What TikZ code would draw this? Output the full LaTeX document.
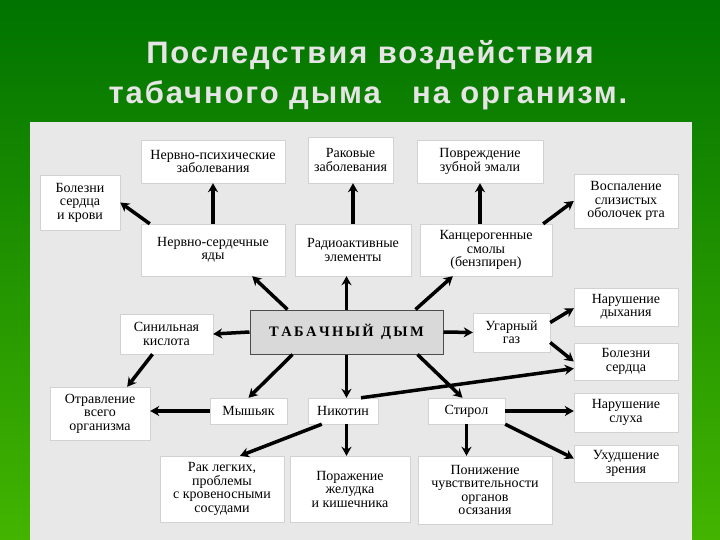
\documentclass[tikz,border=0pt]{standalone}
\usepackage{fontspec}
\setmainfont{Liberation Serif}
\newfontfamily\titlefont[LetterSpace=6]{Liberation Sans}
\usetikzlibrary{arrows.meta}
\begin{document}
\begin{tikzpicture}[x=1pt,y=-1pt,
  box/.style={fill=white,draw=gray!35,align=center,inner sep=1pt,font=\fontsize{14}{13.5}\selectfont},
  arr/.style={line width=3.5pt,-{Stealth[length=9pt,width=10pt]}},
  ttl/.style={font=\titlefont\bfseries\fontsize{31}{32}\selectfont,text=gray!20}]
\shade[top color=green!45!black,bottom color=green!55!black!65!lime] (0,0) rectangle (720,540);
\useasboundingbox (0,0) rectangle (720,540);
\fill[gray!18] (30,122) rectangle (692,540);
\node[ttl] (t1) at (370,55) {Последствия воздействия};
\node[ttl] (t2) at (368,95) {табачного дыма\ \ \ на организм.};
\newcommand\bx[6]{\node[box,minimum width=#4-#2,minimum height=#5-#3] (#1) at ({(#2+#4)/2},{(#3+#5)/2}) {#6};}
\bx{top1}{141}{140}{285}{183}{Нервно-психические\\заболевания}
\bx{top2}{308}{137}{393}{183}{Раковые\\заболевания}
\bx{top3}{417}{140}{543}{183}{Повреждение\\зубной эмали}
\bx{bsk}{40}{175}{120}{230}{Болезни\\сердца\\и крови}
\bx{vos}{574}{174}{678}{228}{Воспаление\\слизистых\\оболочек рта}
\bx{mid1}{141}{224}{285}{276}{Нервно-сердечные\\яды}
\bx{mid2}{295}{224}{411}{276}{Радиоактивные\\элементы}
\bx{mid3}{420}{224}{552}{276}{Канцерогенные\\смолы\\(бензпирен)}
\node[fill=gray!30,draw=gray!60!black,line width=1pt,minimum width=193,minimum height=44,font=\fontsize{14.5}{14}\selectfont\bfseries] (c) at (346.5,332) {Т\,А\,Б\,А\,Ч\,Н\,Ы\,Й\ \ Д\,Ы\,М};
\bx{sin}{120}{314}{213}{354}{Синильная\\кислота}
\bx{ug}{473}{313}{550}{352}{Угарный\\газ}
\bx{nd}{574}{288}{678}{326}{Нарушение\\дыхания}
\bx{bs}{574}{343}{678}{380}{Болезни\\сердца}
\bx{otr}{50}{387}{150}{440}{Отравление\\всего\\организма}
\bx{mys}{210}{398}{287}{424}{Мышьяк}
\bx{nik}{308}{398}{378}{424}{Никотин}
\bx{sti}{428}{398}{505}{424}{Стирол}
\bx{ns}{574}{393}{678}{432}{Нарушение\\слуха}
\bx{uz}{574}{445}{678}{482}{Ухудшение\\зрения}
\bx{rak}{160}{456}{284}{522}{Рак легких,\\проблемы\\с кровеносными\\сосудами}
\bx{por}{290}{456}{410}{522}{Поражение\\желудка\\и кишечника}
\bx{pon}{418}{456}{552}{524}{Понижение\\чувствительности\\органов\\осязания}
\draw[arr] (mid1.north) -- (mid1.north |- top1.south);
\draw[arr] (mid2.north) -- (mid2.north |- top2.south);
\draw[arr] (top3.south |- mid3.north) -- (top3.south);
\draw[arr] ([xshift=9pt]mid1.north west) -- (bsk.east);
\draw[arr] ([xshift=-9pt]mid3.north east) -- (vos.west);
\draw[arr] ([xshift=38pt]c.north west) -- ([xshift=-33pt]mid1.south east);
\draw[arr] (c.north) -- (c.north |- mid2.south);
\draw[arr] ([xshift=-28pt]c.north east) -- ([xshift=33pt]mid3.south west);
\draw[arr] (c.west) -- (sin.east);
\draw[arr] (c.east) -- (ug.west);
\draw[arr] ([yshift=10pt]ug.east) -- ([yshift=18pt]nd.south west);
\draw[arr] ([yshift=-10pt]ug.east) -- (bs.west);
\draw[arr] ([xshift=-14pt]sin.south) -- ([xshift=-23pt]otr.north east);
\draw[arr] ([xshift=43pt]c.south west) -- (mys.north);
\draw[arr] (c.south) -- (c.south |- nik.north);
\draw[arr] ([xshift=-26pt]c.south east) -- ([xshift=-4pt]sti.north);
\draw[arr] (mys.west) -- (otr.east |- mys.west);
\draw[arr] ([xshift=18pt]nik.north) -- ([yshift=-7pt]bs.west);
\draw[arr] ([xshift=14pt]nik.south west) -- ([xshift=18pt]rak.north);
\draw[arr] (nik.south -| c.south) -- (c.south |- por.north);
\draw[arr] (sti.east) -- (ns.west |- sti.east);
\draw[arr] (sti.south east) -- ([yshift=5pt]uz.west);
\draw[arr] (sti.south) -- (pon.north -| sti.south);
\end{tikzpicture}
\end{document}
